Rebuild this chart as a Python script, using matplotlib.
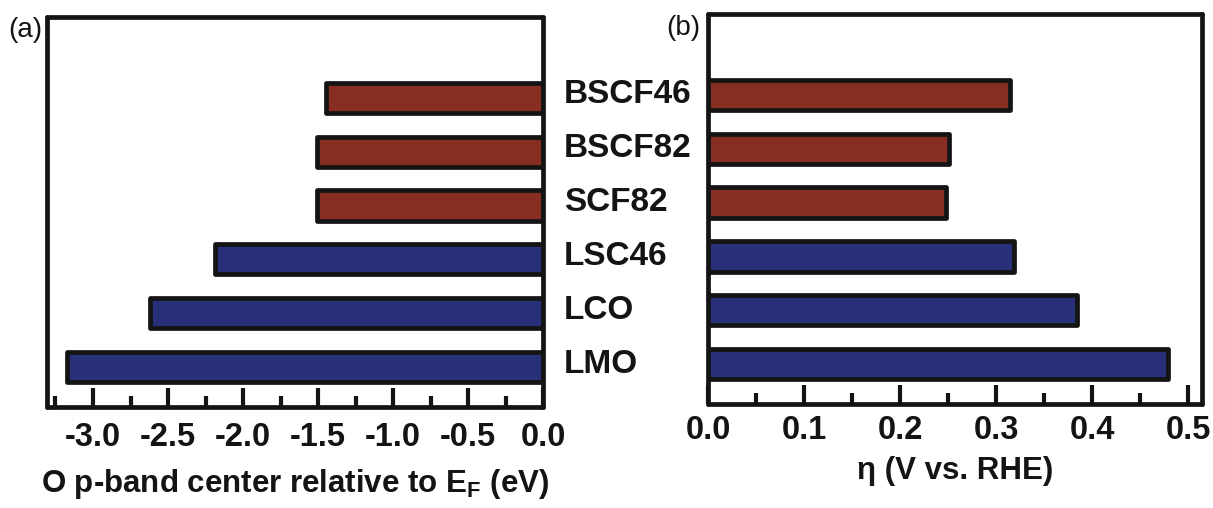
import matplotlib

matplotlib.use("Agg")
import matplotlib.pyplot as plt
from matplotlib.transforms import blended_transform_factory

# perovskite oxides, bottom to top
samples = ["LMO", "LCO", "LSC46", "SCF82", "BSCF82", "BSCF46"]
p_band_center = [-3.17, -2.62, -2.19, -1.51, -1.51, -1.45]   # eV relative to E_F
overpotential = [0.479, 0.384, 0.319, 0.248, 0.251, 0.315]   # V vs. RHE
bar_colors = ["#28307a", "#28307a", "#28307a", "#872d22", "#872d22", "#872d22"]

xticks_a = [-3.0, -2.5, -2.0, -1.5, -1.0, -0.5, 0.0]
minor_a = [-3.25, -2.75, -2.25, -1.75, -1.25, -0.75, -0.25]
xticks_b = [0.0, 0.1, 0.2, 0.3, 0.4, 0.5]
minor_b = [0.05, 0.15, 0.25, 0.35, 0.45]

plt.rcParams["font.family"] = ["Liberation Sans", "DejaVu Sans"]
plt.rcParams["mathtext.fontset"] = "custom"
plt.rcParams["mathtext.bf"] = "Liberation Sans:bold"
plt.rcParams["mathtext.rm"] = "Liberation Sans"

fig = plt.figure(figsize=(12.13, 5.08), dpi=100)
ax_a = fig.add_axes([0.0387, 0.1988, 0.409, 0.7677])
ax_b = fig.add_axes([0.5837, 0.2047, 0.4073, 0.7677])

ypos = list(range(len(samples)))
LW = 3.4
INK = "#141414"


def style_axis(ax, major, minor, lim):
    ax.set_xlim(*lim)
    ax.set_ylim(-0.74, 6.5)
    for sp in ax.spines.values():
        sp.set_linewidth(LW)
        sp.set_color(INK)
        sp.set_capstyle("round")
        sp.set_joinstyle("round")
    ax.set_yticks([])
    ax.set_xticks(major)
    ax.set_xticks(minor, minor=True)
    ax.tick_params(axis="x", which="major", direction="in", length=14, width=3,
                   color=INK, labelsize=23.5, pad=11, top=False)
    ax.tick_params(axis="x", which="minor", direction="in", length=8, width=3,
                   color=INK, top=False)


ax_a.barh(ypos, p_band_center, height=0.56, color=bar_colors, edgecolor=INK,
          linewidth=LW, joinstyle="round", zorder=2)
style_axis(ax_a, xticks_a, minor_a, (-3.307, 0.0))
ax_a.set_xticklabels([f"{v:.1f}" for v in xticks_a], fontweight="bold", color=INK)
ax_a.set_xlabel(r"O p-band center relative to E$_{\mathbf{F}}$ (eV)",
                fontsize=22.5, fontweight="bold", color=INK, labelpad=10)

ax_b.barh(ypos, overpotential, height=0.56, color=bar_colors, edgecolor=INK,
          linewidth=LW, joinstyle="round", zorder=2)
style_axis(ax_b, xticks_b, minor_b, (0.0, 0.5146))
ax_b.set_xticklabels([f"{v:.1f}" for v in xticks_b], fontweight="bold", color=INK)
ax_b.tick_params(axis="x", which="major", pad=8)
ax_b.set_xlabel("η (V vs. RHE)", fontsize=22.5, fontweight="bold", color=INK, labelpad=7)

# sample names sit in the gap between the two panels
trans = blended_transform_factory(fig.transFigure, ax_b.transData)
for y, name in zip(ypos, samples):
    ax_b.text(564 / 1213, y, name, transform=trans, ha="left", va="center",
              fontsize=24, fontweight="bold", color=INK, clip_on=False)

fig.text(42 / 1213, 1 - 30 / 508, "(a)", ha="right", va="center", fontsize=20, color=INK)
fig.text(700 / 1213, 1 - 28 / 508, "(b)", ha="right", va="center", fontsize=20, color=INK)

fig.savefig("out.png", dpi=100)
